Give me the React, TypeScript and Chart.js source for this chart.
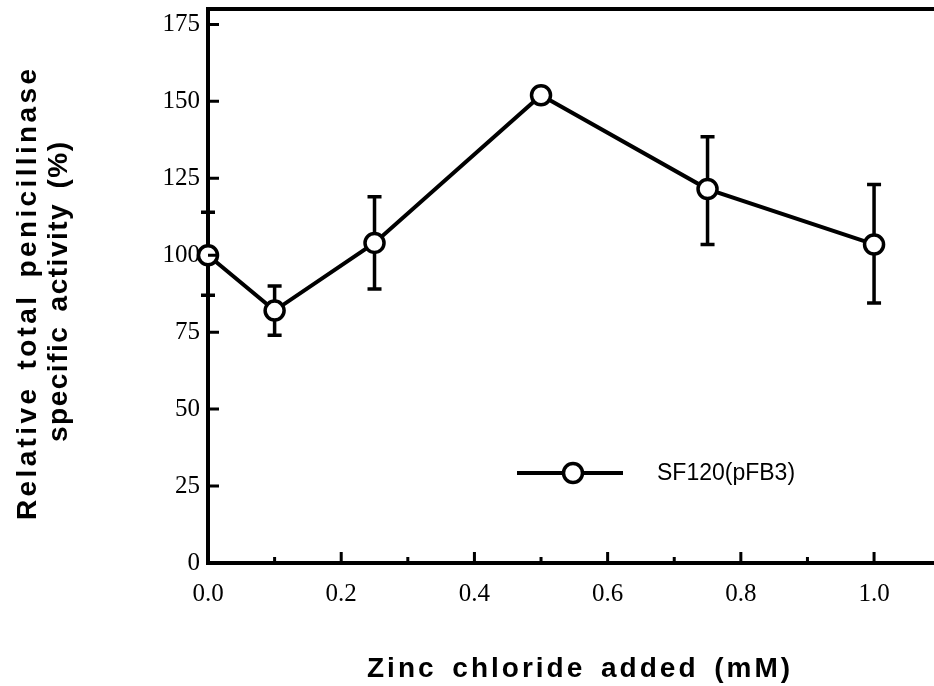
import React, { useEffect, useRef } from "react";
import { Chart, registerables } from "chart.js";

Chart.register(...registerables);

const seriesLabel = "SF120(pFB3)";
const zincMM = [0, 0.1, 0.25, 0.5, 0.75, 1.0];
const activity = [100, 82, 104, 152, 121.5, 103.5];
const errUpper: (number | null)[] = [114, 90, 119, null, 138.5, 123];
const errLower: (number | null)[] = [87, 74, 89, null, 103.5, 84.5];
const xMajorTicks = [0, 0.2, 0.4, 0.6, 0.8, 1.0];
const xMinorTicks = [0.1, 0.3, 0.5, 0.7, 0.9];
const yTickValues = [0, 25, 50, 75, 100, 125, 150, 175];
const xTitle = "Zinc chloride added (mM)";
const yTitleLines = ["Relative total penicillinase", "specific activity (%)"];

function setSpacing(ctx: CanvasRenderingContext2D, ls: number, ws: number) {
  const c: any = ctx;
  c.letterSpacing = ls + "px";
  c.wordSpacing = ws + "px";
}

function fitSpacing(ctx: CanvasRenderingContext2D, text: string, target: number, ws: number) {
  setSpacing(ctx, 0, ws);
  const w = ctx.measureText(text).width;
  const ls = Math.max(0, (target - w) / (text.length - 1));
  setSpacing(ctx, ls, ws);
}

const decorPlugin = {
  id: "decor",
  beforeDatasetsDraw(chart: any) {
    const ctx: CanvasRenderingContext2D = chart.ctx;
    const xs = chart.scales.x;
    const ys = chart.scales.y;
    ctx.save();
    ctx.strokeStyle = "#000";
    ctx.lineWidth = 3.5;
    ctx.lineCap = "butt";
    for (let i = 0; i < zincMM.length; i++) {
      const hi = errUpper[i];
      const lo = errLower[i];
      if (hi == null || lo == null) continue;
      const px = xs.getPixelForValue(zincMM[i]);
      const pHi = ys.getPixelForValue(hi);
      const pLo = ys.getPixelForValue(lo);
      ctx.beginPath();
      ctx.moveTo(px, pHi);
      ctx.lineTo(px, pLo);
      ctx.moveTo(px - 7, pHi);
      ctx.lineTo(px + 7, pHi);
      ctx.moveTo(px - 7, pLo);
      ctx.lineTo(px + 7, pLo);
      ctx.stroke();
    }
    ctx.restore();
  },
  afterDraw(chart: any) {
    const ctx: CanvasRenderingContext2D = chart.ctx;
    const xs = chart.scales.x;
    const ys = chart.scales.y;
    const area = chart.chartArea;
    ctx.save();
    ctx.strokeStyle = "#000";
    ctx.lineCap = "butt";
    // top frame line
    ctx.lineWidth = 4;
    ctx.beginPath();
    ctx.moveTo(area.left - 2, area.top);
    ctx.lineTo(area.right, area.top);
    ctx.stroke();
    // inward ticks
    ctx.lineWidth = 3;
    ctx.beginPath();
    for (const v of xMajorTicks) {
      const px = xs.getPixelForValue(v);
      ctx.moveTo(px, area.bottom);
      ctx.lineTo(px, area.bottom - 11);
    }
    for (const v of xMinorTicks) {
      const px = xs.getPixelForValue(v);
      ctx.moveTo(px, area.bottom);
      ctx.lineTo(px, area.bottom - 6);
    }
    for (const v of yTickValues) {
      const py = ys.getPixelForValue(v);
      ctx.moveTo(area.left, py);
      ctx.lineTo(area.left + 11, py);
    }
    ctx.stroke();

    // legend
    const ly = 473;
    ctx.lineWidth = 4;
    ctx.beginPath();
    ctx.moveTo(517, ly);
    ctx.lineTo(623, ly);
    ctx.stroke();
    ctx.beginPath();
    ctx.arc(573, ly, 9.5, 0, Math.PI * 2);
    ctx.fillStyle = "#fff";
    ctx.fill();
    ctx.lineWidth = 3.5;
    ctx.stroke();
    ctx.fillStyle = "#000";
    ctx.font = '23px "Liberation Sans"';
    ctx.textAlign = "left";
    ctx.textBaseline = "middle";
    ctx.fillText(seriesLabel, 657, ly + 1);

    // x title
    ctx.font = 'bold 28px "Liberation Sans"';
    ctx.textBaseline = "alphabetic";
    ctx.textAlign = "left";
    setSpacing(ctx, 3, 5);
    ctx.fillText(xTitle, 367, 677);

    // y title (rotated)
    const lines = [
      { text: yTitleLines[0], x: 36, top: 69, bottom: 520 },
      { text: yTitleLines[1], x: 67, top: 142, bottom: 442 },
    ];
    for (const l of lines) {
      ctx.save();
      ctx.font = 'bold 28px "Liberation Sans"';
      fitSpacing(ctx, l.text, l.bottom - l.top, 5);
      ctx.translate(l.x, l.bottom);
      ctx.rotate(-Math.PI / 2);
      ctx.textAlign = "left";
      ctx.textBaseline = "alphabetic";
      ctx.fillText(l.text, 0, 0);
      ctx.restore();
    }
    setSpacing(ctx, 0, 0);
    ctx.restore();
  },
};

export default function App() {
  const ref = useRef<HTMLCanvasElement | null>(null);
  useEffect(() => {
    if (!ref.current) return;
    const chart = new Chart(ref.current, {
      type: "line",
      data: {
        datasets: [
          {
            label: seriesLabel,
            data: zincMM.map((x, i) => ({ x, y: activity[i] })),
            borderColor: "#000",
            borderWidth: 4,
            pointRadius: 9.5,
            pointBorderWidth: 3.5,
            pointBackgroundColor: "#fff",
            pointBorderColor: "#000",
            pointHoverRadius: 9.5,
            tension: 0,
            clip: false as any,
          },
        ],
      },
      options: {
        responsive: false,
        animation: false,
        devicePixelRatio: 1,
        layout: { autoPadding: false, padding: { top: 9, left: 0, right: 0, bottom: 0 } },
        plugins: {
          legend: { display: false },
          tooltip: { enabled: false },
          title: { display: false },
        },
        events: [],
        scales: {
          x: {
            type: "linear",
            min: 0,
            max: 1.09,
            afterFit: (s: any) => {
              s.height = 123;
              s.paddingLeft = 0;
              s.paddingRight = 0;
            },
            afterBuildTicks: (s: any) => {
              s.ticks = xMajorTicks.map((v) => ({ value: v }));
            },
            grid: { display: false, drawTicks: false },
            border: { display: true, color: "#000", width: 4 },
            ticks: {
              padding: 16,
              color: "#000",
              font: { family: '"Liberation Serif"', size: 25 },
              maxRotation: 0,
              autoSkip: false,
              callback: (v: any) => Number(v).toFixed(1),
            },
          },
          y: {
            type: "linear",
            min: 0,
            max: 180,
            afterFit: (s: any) => {
              s.width = 208;
              s.paddingTop = 0;
              s.paddingBottom = 0;
            },
            afterBuildTicks: (s: any) => {
              s.ticks = yTickValues.map((v) => ({ value: v }));
            },
            grid: { display: false, drawTicks: false },
            border: { display: true, color: "#000", width: 4 },
            ticks: {
              padding: 8,
              color: "#000",
              font: { family: '"Liberation Serif"', size: 25 },
              autoSkip: false,
              callback: (v: any) => String(v),
            },
          },
        },
      },
      plugins: [decorPlugin],
    });
    return () => chart.destroy();
  }, []);
  return (
    <div style={{ position: "absolute", left: 0, top: 0, width: 934, height: 686, background: "#fff" }}>
      <canvas ref={ref} width={934} height={686} style={{ display: "block", width: 934, height: 686 }} />
    </div>
  );
}
